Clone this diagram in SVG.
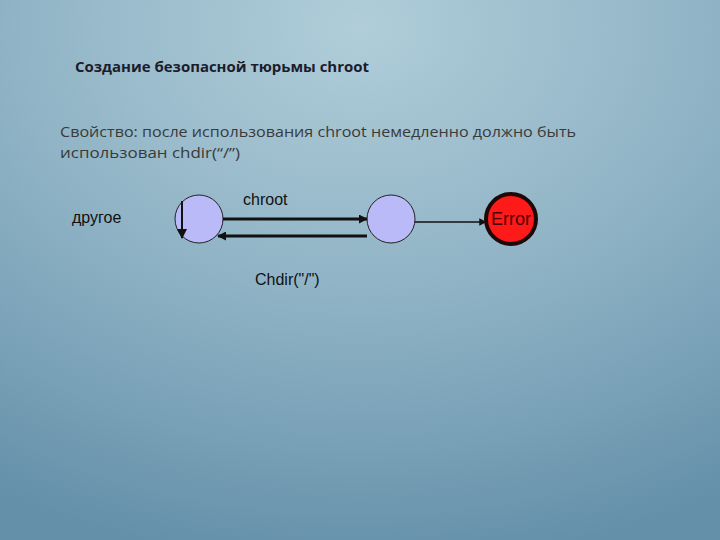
<svg xmlns="http://www.w3.org/2000/svg" width="720" height="540" viewBox="0 0 720 540">
<defs>
<radialGradient id="bg" cx="0.5" cy="0.05" r="1.0" fx="0.5" fy="0.05">
<stop offset="0" stop-color="#b0cdd9"/>
<stop offset="0.5" stop-color="#8fb3c5"/>
<stop offset="1" stop-color="#6590aa"/>
</radialGradient>
<marker id="ah" viewBox="0 0 10 10" refX="9" refY="5" markerWidth="3" markerHeight="3" orient="auto">
<path d="M0,0 L10,5 L0,10 z" fill="#111"/>
</marker>
<marker id="ah2" viewBox="0 0 10 10" refX="9" refY="5" markerWidth="5" markerHeight="5" orient="auto">
<path d="M0,0 L10,5 L0,10 z" fill="#111"/>
</marker>
</defs>
<style>
.t{font-family:"Liberation Sans",Arial,sans-serif;font-size:16px;fill:#111}
.b{font-family:"Open Sans","Noto Sans",sans-serif;fill:#3a3a3a;font-size:15px}
.st{fill:#babaf8;stroke:#222;stroke-width:1}
</style>
<rect width="720" height="540" fill="url(#bg)"/>
<text x="75" y="72" font-family="'Open Sans','Noto Sans',sans-serif" font-weight="bold" font-size="14.5" fill="#1c1c2c" textLength="294" lengthAdjust="spacingAndGlyphs">Создание безопасной тюрьмы chroot</text>
<text class="b" x="60" y="137" textLength="516" lengthAdjust="spacingAndGlyphs">Свойство: после использования chroot немедленно должно быть</text>
<text class="b" x="60" y="158" textLength="180" lengthAdjust="spacingAndGlyphs">использован chdir(“/”)</text>
<g id="other"><text class="t" x="72" y="223">другое</text></g>
<g id="s1"><circle class="st" cx="199" cy="219" r="24"/></g>
<g id="s2"><circle class="st" cx="391" cy="219" r="24"/></g>
<g id="err"><circle cx="511" cy="219" r="25" fill="#ff1a1a" stroke="#1e0808" stroke-width="4"/><text x="511" y="225" text-anchor="middle" font-family="'Liberation Sans',Arial,sans-serif" font-size="18" fill="#4a0000">Error</text></g>
<g id="connectors">
<line x1="223" y1="219" x2="367" y2="219" stroke="#111" stroke-width="3" marker-end="url(#ah)"/>
<line x1="367" y1="236" x2="218" y2="236" stroke="#111" stroke-width="3" marker-end="url(#ah)"/>
<line x1="415" y1="222" x2="486" y2="222" stroke="#111" stroke-width="1.5" marker-end="url(#ah2)"/>
<line x1="182" y1="201" x2="182" y2="238" stroke="#111" stroke-width="2" marker-end="url(#ah2)"/>
<text class="t" x="243" y="205">chroot</text>
<text class="t" x="255" y="285">Chdir("/")</text>
</g>
</svg>
